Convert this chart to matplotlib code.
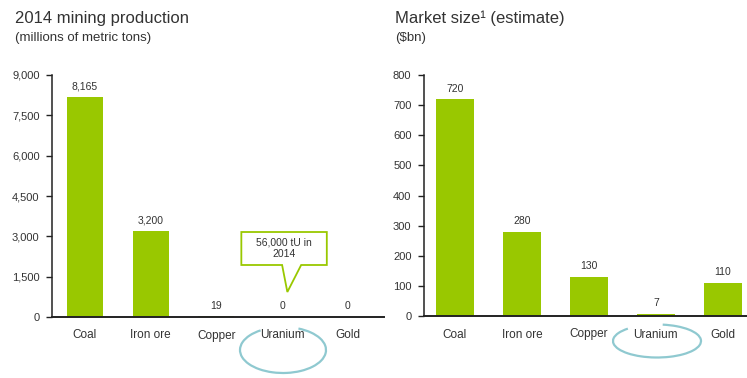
import matplotlib
matplotlib.use("Agg")
import matplotlib.pyplot as plt
from matplotlib.patches import Polygon, Arc

plt.rcParams['font.family'] = ['Liberation Sans', 'DejaVu Sans']

categories = ['Coal', 'Iron ore', 'Copper', 'Uranium', 'Gold']
production = [8165, 3200, 19, 0, 0]
production_labels = ['8,165', '3,200', '19', '0', '0']
prod_ticks = [0, 1500, 3000, 4500, 6000, 7500, 9000]
market = [720, 280, 130, 7, 110]
market_labels = ['720', '280', '130', '7', '110']
market_ticks = [0, 100, 200, 300, 400, 500, 600, 700, 800]

GREEN = '#99c800'
TXT = '#333333'
TEAL = '#8fc9d0'

W, H = 747, 378
fig = plt.figure(figsize=(W / 100, H / 100), dpi=100)


def px_axes(x0, x1, ytop, ybot):
    return fig.add_axes([x0 / W, 1 - ybot / H, (x1 - x0) / W, (ybot - ytop) / H])


def style(ax, ticks, labels_fmt):
    for s in ['top', 'right']:
        ax.spines[s].set_visible(False)
    ax.spines['left'].set_color('#222222')
    ax.spines['left'].set_linewidth(1.1)
    ax.spines['bottom'].set_color('#222222')
    ax.spines['bottom'].set_linewidth(1.4)
    ax.set_yticks(ticks)
    ax.set_yticklabels([labels_fmt(t) for t in ticks])
    ax.tick_params(axis='y', length=4, width=1, color='#222222',
                   labelsize=8, labelcolor=TXT, pad=5)
    ax.tick_params(axis='x', length=0, labelsize=8.5, labelcolor=TXT, pad=9)
    ax.set_xticks(range(len(categories)))
    ax.set_xticklabels(categories)


# left chart
ax1 = px_axes(52, 384, 75, 317)
x = range(len(categories))
ax1.bar(x, production, width=0.55, color=GREEN)
for i, (v, s) in enumerate(zip(production, production_labels)):
    ax1.annotate(s, (i, v), xytext=(0, 4), textcoords='offset points',
                 ha='center', va='bottom', fontsize=7.5, color=TXT)
ax1.set_ylim(0, 9000)
ax1.set_xlim(-0.5, 4.55)
style(ax1, prod_ticks, lambda t: f'{t:,}')

# callout bubble
bub = [(2.38, 3161), (3.68, 3161), (3.68, 1934), (3.29, 1934), (3.08, 930),
       (3.0, 1934), (2.38, 1934)]
ax1.add_patch(Polygon(bub, closed=True, facecolor='white', edgecolor=GREEN,
                      linewidth=1.3, zorder=5))
ax1.text(3.03, 2560, '56,000 tU in\n2014', ha='center', va='center',
         fontsize=7.5, color=TXT, zorder=6, linespacing=1.1)

# right chart
ax2 = px_axes(424, 747, 75, 316)
ax2.bar(x, market, width=0.56, color=GREEN)
for i, (v, s) in enumerate(zip(market, market_labels)):
    ax2.annotate(s, (i, v), xytext=(0, 4), textcoords='offset points',
                 ha='center', va='bottom', fontsize=7.5, color=TXT)
ax2.set_ylim(0, 800)
ax2.set_xlim(-0.46, 4.36)
style(ax2, market_ticks, lambda t: str(t))

# titles
fig.text(15 / W, 1 - 18 / H, '2014 mining production', fontsize=12,
         color=TXT, va='center', ha='left')
fig.text(15 / W, 1 - 38 / H, '(millions of metric tons)', fontsize=9.5,
         color=TXT, va='center', ha='left')
fig.text(395 / W, 1 - 18 / H, 'Market size\u00b9 (estimate)', fontsize=12,
         color=TXT, va='center', ha='left')
fig.text(395 / W, 1 - 38 / H, '($bn)', fontsize=9.5,
         color=TXT, va='center', ha='left')

# hand-drawn circles around Uranium
for cx, cy, w, h, t1, t2 in [(283, 350, 86, 46, 120, 430), (657, 341, 88, 33, 140, 440)]:
    fig.add_artist(Arc((cx / W, 1 - cy / H), w / W, h / H, theta1=t1, theta2=t2,
                       color=TEAL, linewidth=1.6, transform=fig.transFigure))

fig.savefig('out.png', dpi=100)
